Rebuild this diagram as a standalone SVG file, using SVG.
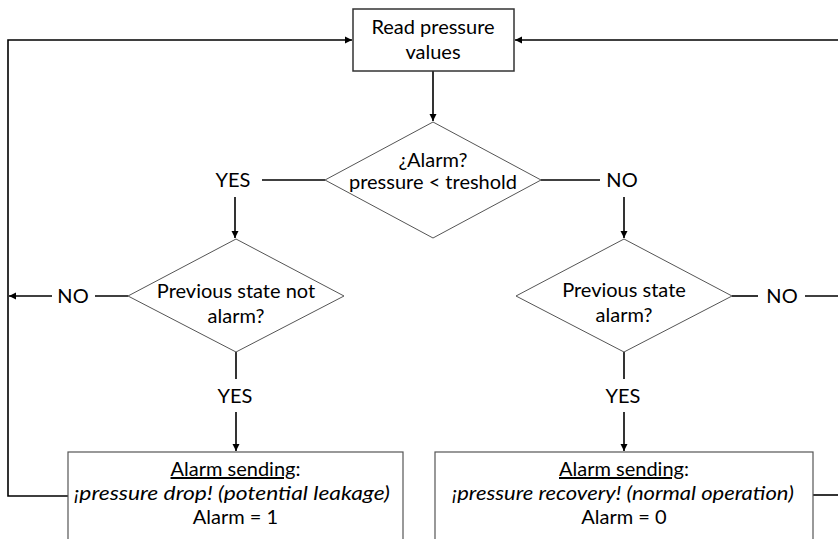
<svg xmlns="http://www.w3.org/2000/svg" width="838" height="539" viewBox="0 0 838 539">
  <style>
    text { font-family: Lato, "Open Sans", "Liberation Sans", sans-serif; font-size: 20px; fill: #000; }
    .c { text-anchor: middle; }
    .it { font-style: italic; }
    .box { fill: #fff; stroke: #555; stroke-width: 1.2; }
    .dia { fill: #fff; stroke: #555; stroke-width: 1; }
    .ln { fill: none; stroke: #000; stroke-width: 1.6; }
    .arr { fill: none; stroke: #000; stroke-width: 1.6; marker-end: url(#ah); }
  </style>
  <defs>
    <marker id="ah" viewBox="0 0 10 10" refX="10" refY="5" markerWidth="4.5" markerHeight="4.5" markerUnits="strokeWidth" orient="auto">
      <path d="M0,0 L10,5 L0,10 z" fill="#000"/>
    </marker>
  </defs>
  <rect width="838" height="539" fill="#fff"/>

  <!-- connectors -->
  <g id="connectors">
    <!-- left return loop -->
    <polyline class="arr" points="68,496 8,496 8,40 352,40"/>
    <!-- right return loop -->
    <polyline class="arr" points="838,40 515,40"/>
    <line class="arr" x1="433" y1="71" x2="433" y2="121"/>
    <!-- decision 1 branches -->
    <line class="ln" x1="262" y1="180" x2="325" y2="180"/>
    <line class="ln" x1="541" y1="180" x2="600" y2="180"/>
    <line class="arr" x1="235" y1="197" x2="235" y2="238"/>
    <line class="arr" x1="624" y1="197" x2="624" y2="238"/>
    <!-- decision 2 branches -->
    <line class="ln" x1="128" y1="296" x2="95" y2="296"/>
    <line class="arr" x1="52" y1="296" x2="9" y2="296"/>
    <line class="ln" x1="236" y1="352" x2="236" y2="379"/>
    <line class="arr" x1="236" y1="412" x2="236" y2="451"/>
    <!-- decision 3 branches -->
    <line class="ln" x1="732" y1="296" x2="758" y2="296"/>
    <line class="ln" x1="805" y1="296" x2="838" y2="296"/>
    <line class="ln" x1="624" y1="352" x2="624" y2="379"/>
    <line class="arr" x1="624" y1="412" x2="624" y2="451"/>
    <!-- right box exit -->
    <line class="ln" x1="813" y1="495" x2="838" y2="495"/>
  </g>

  <!-- branch labels -->
  <g id="labels">
    <text class="c" x="233" y="187">YES</text>
    <text class="c" x="622" y="187">NO</text>
    <text class="c" x="73" y="303">NO</text>
    <text class="c" x="782" y="303">NO</text>
    <text class="c" x="235" y="403">YES</text>
    <text class="c" x="623" y="403">YES</text>
  </g>

  <g id="read-pressure">
    <rect class="box" x="353" y="9" width="161" height="62" style="stroke:#333;stroke-width:1.5"/>
    <text class="c" x="433" y="34">Read pressure</text>
    <text class="c" x="433" y="59">values</text>
  </g>

  <g id="check-alarm">
    <polygon class="dia" points="433,122 541,180 433,238 325,180"/>
    <text class="c" x="433" y="167">¿Alarm?</text>
    <text class="c" x="433" y="189">pressure &lt; treshold</text>
  </g>

  <g id="prev-not-alarm">
    <polygon class="dia" points="236,239 344,296 236,352 128,296"/>
    <text class="c" x="236" y="298">Previous state not</text>
    <text class="c" x="236" y="323">alarm?</text>
  </g>

  <g id="prev-alarm">
    <polygon class="dia" points="624,239 732,296 624,352 516,296"/>
    <text class="c" x="624" y="297">Previous state</text>
    <text class="c" x="624" y="322">alarm?</text>
  </g>

  <g id="send-drop">
    <rect class="box" x="68" y="452" width="335" height="100"/>
    <text class="c" x="235.5" y="476"><tspan text-decoration="underline">Alarm sending</tspan>:</text>
    <text class="c it" x="232" y="500" textLength="316" lengthAdjust="spacingAndGlyphs">¡pressure drop! (potential leakage)</text>
    <text class="c" x="235.5" y="524">Alarm = 1</text>
  </g>

  <g id="send-recovery">
    <rect class="box" x="435" y="452" width="378" height="100"/>
    <text class="c" x="624" y="476"><tspan text-decoration="underline">Alarm sending</tspan>:</text>
    <text class="c it" x="623" y="500" textLength="342" lengthAdjust="spacingAndGlyphs">¡pressure recovery! (normal operation)</text>
    <text class="c" x="624" y="524">Alarm = 0</text>
  </g>
</svg>
